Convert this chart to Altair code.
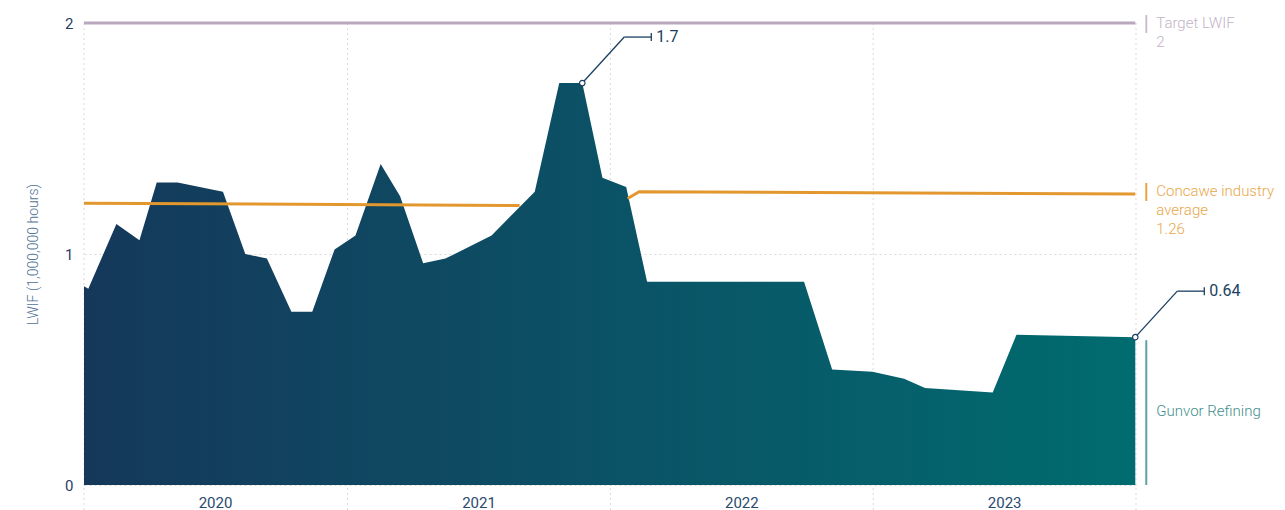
import altair as alt
import pandas as pd

# Gunvor Refining lost-work injury frequency (per 1,000,000 hours)
gunvor_dates = [
    "2020-01-01", "2020-01-07", "2020-02-15", "2020-03-18", "2020-04-11", "2020-05-10",
    "2020-07-12", "2020-08-12", "2020-09-11", "2020-10-15", "2020-11-13", "2020-12-14",
    "2021-01-12", "2021-02-16", "2021-03-15", "2021-04-16", "2021-05-17", "2021-07-20",
    "2021-09-18", "2021-10-22", "2021-11-23", "2021-12-21",
    "2022-01-23", "2022-02-21", "2022-09-27", "2022-11-05", "2022-12-31",
    "2023-02-13", "2023-03-14", "2023-06-16", "2023-07-19", "2023-12-31",
]
gunvor_lwif = [
    0.86, 0.85, 1.13, 1.06, 1.31, 1.31,
    1.27, 1.00, 0.98, 0.75, 0.75, 1.02,
    1.08, 1.39, 1.25, 0.96, 0.98, 1.08,
    1.27, 1.74, 1.74, 1.33,
    1.29, 0.88, 0.88, 0.50, 0.49,
    0.46, 0.42, 0.40, 0.65, 0.64,
]

# Concawe industry average (two published segments)
concawe_dates = ["2020-01-01", "2021-08-28", "2022-01-25", "2022-02-10", "2023-12-31"]
concawe_lwif = [1.22, 1.21, 1.24, 1.27, 1.26]
concawe_segment = [1, 1, 2, 2, 2]

# Target
target_dates = ["2020-01-01", "2023-12-31"]
target_lwif = [2, 2]

# Year boundaries for the vertical grid
year_starts = ["2020-01-01", "2021-01-01", "2022-01-01", "2023-01-01", "2024-01-01"]

NAVY = "#1B3F62"
TEAL = "#3F8F8E"
ORANGE = "#E2982F"
LAVENDER = "#B9A8BE"
GRID = "#D9D9D9"

gunvor = pd.DataFrame({"date": pd.to_datetime(gunvor_dates), "v": gunvor_lwif})
concawe = pd.DataFrame({"date": pd.to_datetime(concawe_dates), "v": concawe_lwif,
                        "seg": concawe_segment})
target = pd.DataFrame({"date": pd.to_datetime(target_dates), "v": target_lwif})
years = pd.DataFrame({"date": pd.to_datetime(year_starts), "v": 2.0, "v0": 0.0})

# Callouts: highest value and latest value
peak_i = int(pd.Series(gunvor_lwif).iloc[::-1].idxmax())
callouts = gunvor.iloc[[peak_i, len(gunvor) - 1]].copy()
callouts["label"] = [f"{callouts['v'].iloc[0]:.1f}", f"{callouts['v'].iloc[1]:.2f}"]

# Series labels at the right-hand end of each series
last_g = gunvor.iloc[[-1]].copy()
last_g["zero"] = 0.0
g_label = last_g.copy()
g_label["v"] = last_g["v"] / 2          # label sits halfway up the last value
g_label["label"] = "Gunvor Refining"
last_c = concawe.iloc[[-1]].copy()
last_c["label"] = f"Concawe industry\naverage\n{last_c['v'].iloc[0]:.2f}"
last_t = target.iloc[[-1]].copy()
last_t["label"] = f"Target LWIF\n{last_t['v'].iloc[0]:g}"

x_scale = alt.Scale(domain=[alt.DateTime(year=2020, month=1, date=1),
                            alt.DateTime(year=2024, month=1, date=1)])
X = alt.X("date:T", scale=x_scale, title=None,
          axis=alt.Axis(values=[alt.DateTime(year=y, month=1, date=1) for y in range(2020, 2025)],
                        labelExpr="year(datum.value) < 2024 ? timeFormat(datum.value, '%Y') : ''",
                        labelOffset=131, labelFlush=False, grid=False, ticks=False,
                        domain=False, labelPadding=10, labelFontSize=15,
                        labelColor="#2A4A6E"))
Y = alt.Y("v:Q", scale=alt.Scale(domain=[0, 2], nice=False),
          axis=alt.Axis(values=[0, 1, 2], labelExpr="format(datum.value, '~g')",
                        labelOverlap=False, grid=True, gridDash=[2, 3],
                        gridColor=GRID, ticks=False, domain=False, labelPadding=11,
                        labelFontSize=15, labelColor="#1F3F66", labelFlush=False,
                        title="LWIF (1,000,000 hours)",
                        titleFontSize=14, titleFontWeight=300, titleColor="#4F7296",
                        titlePadding=24))

vgrid = alt.Chart(years).mark_rule(color=GRID, strokeDash=[2, 3], strokeWidth=1,
                                   y2Offset=25).encode(x=X, y=Y, y2="v0")

area = alt.Chart(gunvor).mark_area(
    color=alt.Gradient(gradient="linear",
                       stops=[alt.GradientStop(color="#15385A", offset=0),
                              alt.GradientStop(color="#0B5266", offset=0.5),
                              alt.GradientStop(color="#006C6F", offset=1)],
                       x1=0, x2=1, y1=0, y2=0),
    interpolate="linear",
).encode(x=X, y=Y)

concawe_line = alt.Chart(concawe).mark_line(color=ORANGE, strokeWidth=3).encode(
    x=X, y=Y, detail="seg:N")

target_line = alt.Chart(target).mark_line(color=LAVENDER, strokeWidth=3).encode(x=X, y=Y)

# Callout leader lines and values
c_base = alt.Chart(callouts)
c_diag = c_base.mark_rule(color=NAVY, strokeWidth=1.3, x2Offset=42, y2Offset=-46).encode(
    x=X, y=Y, x2="date:T", y2="v")
c_flat = c_base.mark_rule(color=NAVY, strokeWidth=1.3, xOffset=42, x2Offset=69,
                          yOffset=-46, y2Offset=-46).encode(x=X, y=Y, x2="date:T", y2="v")
c_tick = c_base.mark_rule(color=NAVY, strokeWidth=1.3, xOffset=69, yOffset=-50,
                          y2Offset=-42).encode(x=X, y=Y, y2="v")
c_dot = c_base.mark_point(shape="circle", size=30, filled=True, fill="white", stroke=NAVY,
                          strokeWidth=1.2, opacity=1).encode(x=X, y=Y)
c_text = c_base.mark_text(align="left", baseline="middle", dx=74, dy=-46, fontSize=16,
                          color=NAVY).encode(x=X, y=Y, text="label:N")

# Right-hand series labels
t_bar = alt.Chart(last_t).mark_rule(color="#CBBFCF", strokeWidth=2, xOffset=11,
                                    yOffset=-8, y2Offset=10).encode(x=X, y=Y, y2="v")
t_text = alt.Chart(last_t).mark_text(align="left", baseline="top", dx=21, dy=-7,
                                     lineBreak="\n", lineHeight=19, fontSize=15,
                                     fontWeight=300, color="#C2B4C7").encode(
    x=X, y=Y, text="label:N")
c_bar = alt.Chart(last_c).mark_rule(color="#EAA443", strokeWidth=2, xOffset=11,
                                    yOffset=-11, y2Offset=7).encode(x=X, y=Y, y2="v")
c_lab = alt.Chart(last_c).mark_text(align="left", baseline="top", dx=21, dy=-10,
                                    lineBreak="\n", lineHeight=19, fontSize=15,
                                    fontWeight=300, color="#E9A64A").encode(
    x=X, y=Y, text="label:N")
g_bar = alt.Chart(last_g).mark_rule(color="#5AA3A3", strokeWidth=2, xOffset=11,
                                    yOffset=3).encode(x=X, y=Y, y2="zero")
g_text = alt.Chart(g_label).mark_text(align="left", baseline="middle", dx=21, fontSize=15,
                                      fontWeight=300, color=TEAL).encode(
    x=X, y=Y, text="label:N")

chart = alt.layer(
    vgrid, area, concawe_line, target_line,
    c_diag, c_flat, c_tick, c_dot, c_text,
    t_bar, t_text, c_bar, c_lab, g_bar, g_text,
).properties(
    width=1052, height=462,
    padding={"left": 84, "top": 23, "right": 149, "bottom": 25},
    autosize=alt.AutoSizeParams(type="none"),
).configure(font="Roboto").configure_view(stroke=None)

chart.save("out.html", embed_options={"renderer": "svg", "actions": False})
